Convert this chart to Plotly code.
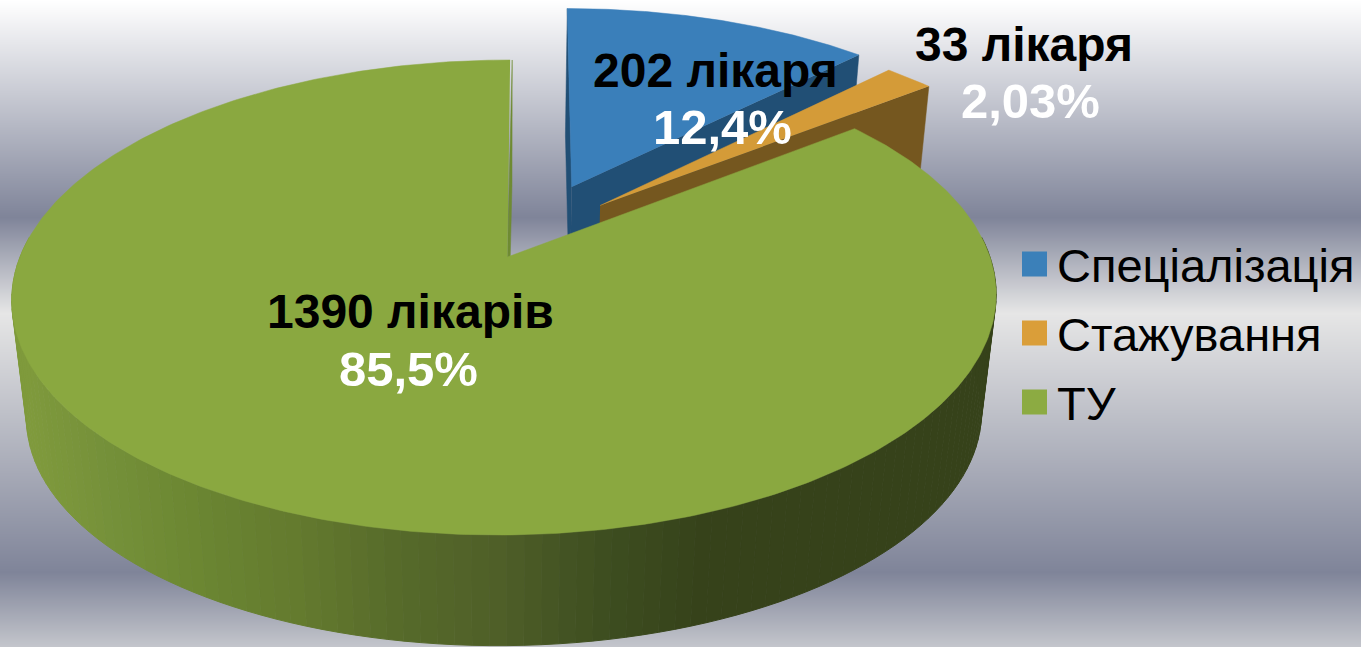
"""3D style pie of doctors by training type, drawn on pixel-sized axes."""

import numpy as np
import plotly.graph_objects as go

categories = ["Спеціалізація", "Стажування", "ТУ"]
doctors = [202, 33, 1390]
count_labels = ["202 лікаря", "33 лікаря", "1390 лікарів"]
percent_labels = ["12,4%", "2,03%", "85,5%"]

top_colors = ["#3a7fba", "#d49b38", "#8aa840"]
face_colors = ["#214f75", "#75571f", "#6f8b33"]
legend_colors = ["#3b80b9", "#da9e39", "#8cab42"]

# how far each slice is pulled out of the disc centre, in radii (right, towards viewer)
explode = [(0.141, -0.32), (0.201, -0.232), (0.005, 0.0)]

count_x = [715, 1024, 410]
percent_x = [722, 1030, 408]
count_y = [70, 44, 311]
percent_y = [127, 101, 369]
legend_y = [264, 333, 402]
legend_text_y = [265, 334, 403]

bg_y = [0, 217, 313, 572, 647]
bg_colors = ["#ffffff", "#7f8499", "#e6e6e6", "#7f8499", "#c4c6cc"]

wall_x = [0, 30, 100, 200, 300, 400, 500, 600, 700, 1000]
wall_r = [128, 127, 118, 107, 100, 86, 79, 62, 54, 54]
wall_g = [155, 154, 146, 134, 122, 106, 95, 78, 66, 66]
wall_b = [60, 60, 58, 50, 46, 42, 40, 32, 26, 26]

WIDTH, HEIGHT = 1361, 647
FONT = "Liberation Sans"
K = 0.1705  # perspective strength
CX, CY = 505, 257
RX, RY = 485, 230.6
SHEAR = -6
DROP_Y, DROP_SCALE = 376, 0.97


def project(u, v, bottom=False):
    depth = 1 - K * np.asarray(v, dtype=float)
    sx = (RX * np.asarray(u) + SHEAR * np.asarray(v)) / depth
    sy = RY * np.asarray(v) / depth
    if bottom:
        return CX + DROP_SCALE * sx, DROP_Y + DROP_SCALE * sy
    return CX + sx, CY + sy


def rim(angles, offset, bottom=False):
    return project(offset[0] + np.sin(angles), offset[1] - np.cos(angles), bottom)


def polygon(x, y, color, width=0.5):
    return go.Scatter(
        x=np.asarray(x),
        y=np.asarray(y),
        mode="lines",
        fill="toself",
        fillcolor=color,
        line={"color": color, "width": width},
        hoverinfo="skip",
        showlegend=False,
    )


def radial_face(angle, offset, color):
    tip_x, tip_y = project(offset[0], offset[1])
    tip_bx, tip_by = project(offset[0], offset[1], bottom=True)
    end_x, end_y = rim(angle, offset)
    end_bx, end_by = rim(angle, offset, bottom=True)
    return polygon([tip_x, end_x, end_bx, tip_bx], [tip_y, end_y, end_by, tip_by], color)


def wedge(start, stop, offset, color):
    angles = np.linspace(start, stop, 200)
    arc_x, arc_y = rim(angles, offset)
    tip_x, tip_y = project(offset[0], offset[1])
    return polygon(np.r_[tip_x, arc_x], np.r_[tip_y, arc_y], color)


fractions = np.array(doctors) / sum(doctors)
edges = np.r_[0, np.cumsum(fractions)] * 2 * np.pi

fig = go.Figure()

stop_pos = [y / HEIGHT for y in bg_y]
fig.add_trace(
    go.Heatmap(
        x=[-1000, 3000],
        y=bg_y,
        z=[[y, y] for y in bg_y],
        zmin=0,
        zmax=HEIGHT,
        zsmooth="best",
        colorscale=[[p, c] for p, c in zip(stop_pos, bg_colors)],
        showscale=False,
        hoverinfo="skip",
    )
)

# blue slice
fig.add_trace(radial_face(edges[1], explode[0], face_colors[0]))
fig.add_trace(radial_face(edges[0], explode[0], face_colors[0]))
fig.add_trace(wedge(edges[0], edges[1], explode[0], top_colors[0]))

# orange slice
fig.add_trace(radial_face(edges[2], explode[1], face_colors[1]))
fig.add_trace(wedge(edges[1], edges[2], explode[1], top_colors[1]))

# green slice: outer wall in thin strips so the shading runs across it
green_offset = (0.0, 0.0)
strip_edges = np.linspace(np.radians(85), np.radians(275), 110)
for a0, a1 in zip(strip_edges[:-1], strip_edges[1:]):
    pair = np.array([a0, a1])
    tx, ty = rim(pair, green_offset)
    bx, by = rim(pair, green_offset, bottom=True)
    mid = float(np.mean(np.r_[tx, bx]))
    rgb = (
        round(np.interp(mid, wall_x, wall_r)),
        round(np.interp(mid, wall_x, wall_g)),
        round(np.interp(mid, wall_x, wall_b)),
    )
    fig.add_trace(
        polygon(np.r_[tx, bx[::-1]], np.r_[ty, by[::-1]], f"rgb{rgb}", width=1)
    )
fig.add_trace(radial_face(edges[3], explode[2], face_colors[2]))
arc_angles = np.linspace(edges[2], edges[3], 400)
arc_x, arc_y = rim(arc_angles, green_offset)
tip_x, tip_y = project(*explode[2])
fig.add_trace(polygon(np.r_[tip_x, arc_x], np.r_[tip_y, arc_y], top_colors[2]))

# legend
fig.add_trace(
    go.Scatter(
        x=[1034.5] * len(categories),
        y=legend_y,
        mode="markers",
        marker={"symbol": "square", "size": 25, "color": legend_colors, "line": {"width": 0}},
        hoverinfo="skip",
        showlegend=False,
    )
)
for name, y in zip(categories, legend_text_y):
    fig.add_annotation(
        x=1055, y=y, text=name, showarrow=False, xanchor="left", yanchor="middle",
        font={"family": FONT, "size": 47, "color": "#000000"},
    )

for i in range(len(categories)):
    fig.add_annotation(
        x=count_x[i], y=count_y[i], text=f"<b>{count_labels[i]}</b>", showarrow=False,
        font={"family": FONT, "size": 48, "color": "#000000"},
    )
    fig.add_annotation(
        x=percent_x[i], y=percent_y[i], text=f"<b>{percent_labels[i]}</b>", showarrow=False,
        font={"family": FONT, "size": 49, "color": "#ffffff"},
    )

fig.update_xaxes(range=[0, WIDTH], visible=False, fixedrange=True)
fig.update_yaxes(range=[HEIGHT, 0], visible=False, fixedrange=True)
fig.update_layout(
    width=WIDTH,
    height=HEIGHT,
    margin={"l": 0, "r": 0, "t": 0, "b": 0},
    paper_bgcolor="#ffffff",
    plot_bgcolor="#ffffff",
    showlegend=False,
)

fig.write_html(
    "out.html",
    config={"displayModeBar": False},
    post_script="document.body.style.margin='0';window.dispatchEvent(new Event('resize'));",
)
